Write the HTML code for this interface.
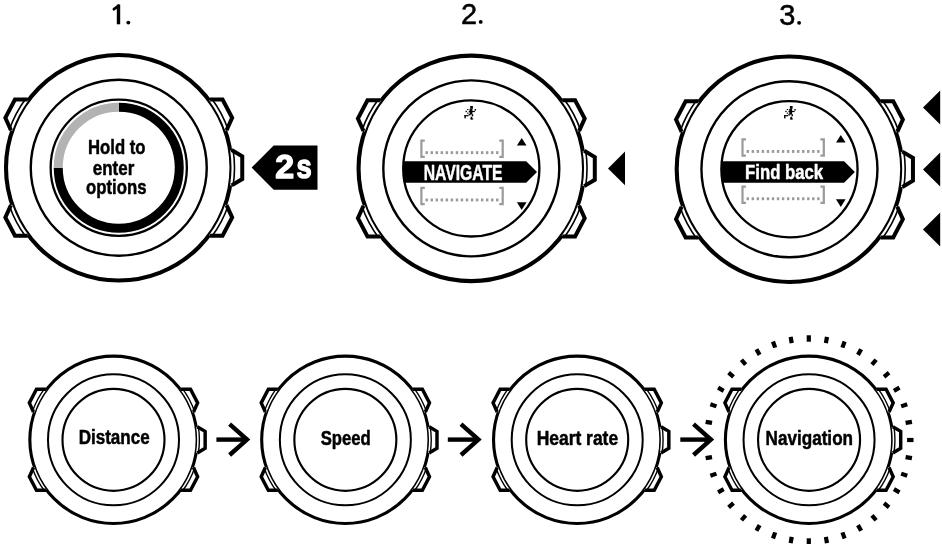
<!DOCTYPE html>
<html><head><meta charset="utf-8"><style>
html,body{margin:0;padding:0;background:#fff;}
body{width:942px;height:544px;overflow:hidden;}
svg{display:block;will-change:transform;}
</style></head><body>
<svg width="942" height="544" viewBox="0 0 942 544">
<rect width="942" height="544" fill="#fff"/>
<rect x="116.8" y="4.6" width="3.4" height="19.7" fill="#000"/>
<path d="M113.9 9.2 L118.6 5.8" stroke="#000" stroke-width="2.8" stroke-linecap="round" fill="none"/>
<circle cx="128.3" cy="22.6" r="1.95" fill="#000"/>
<text x="468.95" y="23.8" font-family="'Liberation Sans', sans-serif" font-size="29" font-weight="normal" fill="#000" text-anchor="middle" stroke="#000" stroke-width="0.5" stroke-linejoin="round">2</text>
<circle cx="480.7" cy="21.9" r="1.95" fill="#000"/>
<text x="787.35" y="24.6" font-family="'Liberation Sans', sans-serif" font-size="29" font-weight="normal" fill="#000" text-anchor="middle" stroke="#000" stroke-width="0.5" stroke-linejoin="round">3</text>
<circle cx="799.1" cy="22.85" r="1.95" fill="#000"/>
<circle cx="118.75" cy="167.7" r="112.75" fill="#fff" stroke="#000" stroke-width="4.1"/>
<circle cx="118.75" cy="167.7" r="88" fill="none" stroke="#000" stroke-width="2.4"/>
<circle cx="118.75" cy="167.7" r="68.1" fill="none" stroke="#000" stroke-width="2.3"/>
<path d="M28.48 100.15 L14.95 99.6 L5.35 117.9 L10.95 130.3 L12.23 130.74 A112.75 112.75 0 0 1 28.48 100.15 Z" fill="#fff" stroke="none"/>
<path d="M9.39 129.76 A115.75 115.75 0 0 1 26.08 98.35" fill="none" stroke="#000" stroke-width="1.6"/>
<path d="M27.75 99.6 L14.95 99.6 L5.35 117.9 L10.95 130.3" fill="none" stroke="#000" stroke-width="4" stroke-linejoin="miter"/>
<path d="M28.48 235.25 L14.95 235.8 L5.35 217.5 L10.95 205.1 L12.23 204.66 A112.75 112.75 0 0 0 28.48 235.25 Z" fill="#fff" stroke="none"/>
<path d="M9.39 205.64 A115.75 115.75 0 0 0 26.08 237.05" fill="none" stroke="#000" stroke-width="1.6"/>
<path d="M27.75 235.8 L14.95 235.8 L5.35 217.5 L10.95 205.1" fill="none" stroke="#000" stroke-width="4" stroke-linejoin="miter"/>
<path d="M209.02 100.15 L222.55 99.6 L232.15 117.9 L226.55 130.3 L225.27 130.74 A112.75 112.75 0 0 0 209.02 100.15 Z" fill="#fff" stroke="none"/>
<path d="M228.11 129.76 A115.75 115.75 0 0 0 211.42 98.35" fill="none" stroke="#000" stroke-width="1.6"/>
<path d="M209.75 99.6 L222.55 99.6 L232.15 117.9 L226.55 130.3" fill="none" stroke="#000" stroke-width="4" stroke-linejoin="miter"/>
<path d="M209.02 235.25 L222.55 235.8 L232.15 217.5 L226.55 205.1 L225.27 204.66 A112.75 112.75 0 0 1 209.02 235.25 Z" fill="#fff" stroke="none"/>
<path d="M228.11 205.64 A115.75 115.75 0 0 1 211.42 237.05" fill="none" stroke="#000" stroke-width="1.6"/>
<path d="M209.75 235.8 L222.55 235.8 L232.15 217.5 L226.55 205.1" fill="none" stroke="#000" stroke-width="4" stroke-linejoin="miter"/>
<path d="M230.14 150.24 L242.25 156.35 L242.25 179.05 L231.65 185.4 L230.14 185.16 A112.75 112.75 0 0 0 230.14 150.24 Z" fill="#fff" stroke="none"/>
<path d="M233.1 185.63 A115.75 115.75 0 0 0 233.1 149.77" fill="none" stroke="#000" stroke-width="1.6"/>
<path d="M231.65 150 L242.25 156.35 L242.25 179.05 L231.65 185.4" fill="none" stroke="#000" stroke-width="4" stroke-linejoin="miter"/>
<path d="M118.75 107.2 A60.5 60.5 0 1 1 58.25 167.7" fill="none" stroke="#000" stroke-width="9"/>
<path d="M58.25 167.7 A60.5 60.5 0 0 1 118.75 107.2" fill="none" stroke="#b3b3b3" stroke-width="9"/>
<text x="116.8" y="154.1" font-family="'Liberation Sans', sans-serif" font-size="21" font-weight="bold" fill="#000" text-anchor="middle" textLength="57.5" lengthAdjust="spacingAndGlyphs" stroke="#000" stroke-width="0.5" stroke-linejoin="round">Hold to</text>
<text x="113.55" y="174.5" font-family="'Liberation Sans', sans-serif" font-size="21" font-weight="bold" fill="#000" text-anchor="middle" textLength="41.5" lengthAdjust="spacingAndGlyphs" stroke="#000" stroke-width="0.5" stroke-linejoin="round">enter</text>
<text x="116.3" y="194.4" font-family="'Liberation Sans', sans-serif" font-size="21" font-weight="bold" fill="#000" text-anchor="middle" textLength="60.5" lengthAdjust="spacingAndGlyphs" stroke="#000" stroke-width="0.5" stroke-linejoin="round">options</text>
<path d="M251.6 167.6 L273.7 145.5 L317.5 145.5 L317.5 189.7 L273.7 189.7 Z" fill="#000"/>
<text x="284.7" y="178.4" font-family="'Liberation Sans', sans-serif" font-size="34" font-weight="bold" fill="#fff" text-anchor="middle" stroke="#fff" stroke-width="1.4" stroke-linejoin="round">2</text>
<text x="304.15" y="178.4" font-family="'Liberation Sans', sans-serif" font-size="34" font-weight="bold" fill="#fff" text-anchor="middle" textLength="15.2" lengthAdjust="spacingAndGlyphs" stroke="#fff" stroke-width="1.4" stroke-linejoin="round">s</text>
<circle cx="471.3" cy="168.4" r="112.75" fill="#fff" stroke="#000" stroke-width="4.1"/>
<circle cx="471.3" cy="168.4" r="88" fill="none" stroke="#000" stroke-width="2.4"/>
<circle cx="471.3" cy="168.4" r="68.1" fill="none" stroke="#000" stroke-width="2.3"/>
<path d="M381.03 100.85 L367.5 100.3 L357.9 118.6 L363.5 131 L364.78 131.44 A112.75 112.75 0 0 1 381.03 100.85 Z" fill="#fff" stroke="none"/>
<path d="M361.94 130.46 A115.75 115.75 0 0 1 378.63 99.05" fill="none" stroke="#000" stroke-width="1.6"/>
<path d="M380.3 100.3 L367.5 100.3 L357.9 118.6 L363.5 131" fill="none" stroke="#000" stroke-width="4" stroke-linejoin="miter"/>
<path d="M381.03 235.95 L367.5 236.5 L357.9 218.2 L363.5 205.8 L364.78 205.36 A112.75 112.75 0 0 0 381.03 235.95 Z" fill="#fff" stroke="none"/>
<path d="M361.94 206.34 A115.75 115.75 0 0 0 378.63 237.75" fill="none" stroke="#000" stroke-width="1.6"/>
<path d="M380.3 236.5 L367.5 236.5 L357.9 218.2 L363.5 205.8" fill="none" stroke="#000" stroke-width="4" stroke-linejoin="miter"/>
<path d="M561.57 100.85 L575.1 100.3 L584.7 118.6 L579.1 131 L577.82 131.44 A112.75 112.75 0 0 0 561.57 100.85 Z" fill="#fff" stroke="none"/>
<path d="M580.66 130.46 A115.75 115.75 0 0 0 563.97 99.05" fill="none" stroke="#000" stroke-width="1.6"/>
<path d="M562.3 100.3 L575.1 100.3 L584.7 118.6 L579.1 131" fill="none" stroke="#000" stroke-width="4" stroke-linejoin="miter"/>
<path d="M561.57 235.95 L575.1 236.5 L584.7 218.2 L579.1 205.8 L577.82 205.36 A112.75 112.75 0 0 1 561.57 235.95 Z" fill="#fff" stroke="none"/>
<path d="M580.66 206.34 A115.75 115.75 0 0 1 563.97 237.75" fill="none" stroke="#000" stroke-width="1.6"/>
<path d="M562.3 236.5 L575.1 236.5 L584.7 218.2 L579.1 205.8" fill="none" stroke="#000" stroke-width="4" stroke-linejoin="miter"/>
<path d="M582.69 150.94 L594.8 157.05 L594.8 179.75 L584.2 186.1 L582.69 185.86 A112.75 112.75 0 0 0 582.69 150.94 Z" fill="#fff" stroke="none"/>
<path d="M585.65 186.33 A115.75 115.75 0 0 0 585.65 150.47" fill="none" stroke="#000" stroke-width="1.6"/>
<path d="M584.2 150.7 L594.8 157.05 L594.8 179.75 L584.2 186.1" fill="none" stroke="#000" stroke-width="4" stroke-linejoin="miter"/>
<clipPath id="clip471"><circle cx="471.3" cy="168.4" r="68.1"/></clipPath>
<g clip-path="url(#clip471)"><path d="M380 161.3 L526.2 161.3 L537 172.05 L526.2 182.8 L380 182.8 Z" fill="#000"/></g>
<text x="463.15" y="179.9" font-family="'Liberation Sans', sans-serif" font-size="21.5" font-weight="bold" fill="#fff" text-anchor="middle" textLength="78.9" lengthAdjust="spacingAndGlyphs" stroke="#fff" stroke-width="0.5" stroke-linejoin="round">NAVIGATE</text>
<path d="M424.8 140.6 h-3.4 v16.2 h3.4 M499.3 140.6 h3.4 v16.2 h-3.4" fill="none" stroke="#9a9a9a" stroke-width="2.2"/>
<rect x="425.5" y="151.2" width="2.4" height="2.9" fill="#9a9a9a"/>
<rect x="430.54" y="151.2" width="2.4" height="2.9" fill="#9a9a9a"/>
<rect x="435.58" y="151.2" width="2.4" height="2.9" fill="#9a9a9a"/>
<rect x="440.62" y="151.2" width="2.4" height="2.9" fill="#9a9a9a"/>
<rect x="445.66" y="151.2" width="2.4" height="2.9" fill="#9a9a9a"/>
<rect x="450.7" y="151.2" width="2.4" height="2.9" fill="#9a9a9a"/>
<rect x="455.74" y="151.2" width="2.4" height="2.9" fill="#9a9a9a"/>
<rect x="460.78" y="151.2" width="2.4" height="2.9" fill="#9a9a9a"/>
<rect x="465.82" y="151.2" width="2.4" height="2.9" fill="#9a9a9a"/>
<rect x="470.86" y="151.2" width="2.4" height="2.9" fill="#9a9a9a"/>
<rect x="475.9" y="151.2" width="2.4" height="2.9" fill="#9a9a9a"/>
<rect x="480.94" y="151.2" width="2.4" height="2.9" fill="#9a9a9a"/>
<rect x="485.98" y="151.2" width="2.4" height="2.9" fill="#9a9a9a"/>
<rect x="491.02" y="151.2" width="2.4" height="2.9" fill="#9a9a9a"/>
<rect x="496.06" y="151.2" width="2.4" height="2.9" fill="#9a9a9a"/>
<path d="M424.8 187.9 h-3.4 v16.2 h3.4 M499.3 187.9 h3.4 v16.2 h-3.4" fill="none" stroke="#9a9a9a" stroke-width="2.2"/>
<rect x="425.5" y="198.5" width="2.4" height="2.9" fill="#9a9a9a"/>
<rect x="430.54" y="198.5" width="2.4" height="2.9" fill="#9a9a9a"/>
<rect x="435.58" y="198.5" width="2.4" height="2.9" fill="#9a9a9a"/>
<rect x="440.62" y="198.5" width="2.4" height="2.9" fill="#9a9a9a"/>
<rect x="445.66" y="198.5" width="2.4" height="2.9" fill="#9a9a9a"/>
<rect x="450.7" y="198.5" width="2.4" height="2.9" fill="#9a9a9a"/>
<rect x="455.74" y="198.5" width="2.4" height="2.9" fill="#9a9a9a"/>
<rect x="460.78" y="198.5" width="2.4" height="2.9" fill="#9a9a9a"/>
<rect x="465.82" y="198.5" width="2.4" height="2.9" fill="#9a9a9a"/>
<rect x="470.86" y="198.5" width="2.4" height="2.9" fill="#9a9a9a"/>
<rect x="475.9" y="198.5" width="2.4" height="2.9" fill="#9a9a9a"/>
<rect x="480.94" y="198.5" width="2.4" height="2.9" fill="#9a9a9a"/>
<rect x="485.98" y="198.5" width="2.4" height="2.9" fill="#9a9a9a"/>
<rect x="491.02" y="198.5" width="2.4" height="2.9" fill="#9a9a9a"/>
<rect x="496.06" y="198.5" width="2.4" height="2.9" fill="#9a9a9a"/>
<path d="M521.7 138.1 L526.5 145.5 L516.9 145.5 Z" fill="#000"/>
<path d="M521.7 210 L526.5 202.3 L516.9 202.3 Z" fill="#000"/>
<g fill="#000" transform="translate(0 0)"><rect x="470.2" y="106" width="2.7" height="2.8"/><rect x="469.6" y="108.8" width="2.8" height="5.7"/><rect x="468.8" y="110.9" width="6.1" height="1.2"/><rect x="474.6" y="109" width="1.4" height="1.6"/><rect x="467.1" y="109" width="1.4" height="1.1"/><rect x="465.5" y="110.8" width="1.4" height="1.3"/><rect x="467.1" y="112.6" width="1.4" height="1.1"/><rect x="464.4" y="115.1" width="4.1" height="1.2"/><rect x="464.4" y="115.1" width="1.4" height="3.3"/><rect x="468.5" y="114.2" width="2" height="1.2"/><rect x="471.8" y="114.2" width="1.4" height="2.2"/><rect x="470.6" y="116.8" width="1.6" height="2.6"/><rect x="470.6" y="118.3" width="2.6" height="1.2"/></g>
<path d="M608 168.4 L625 151.6 L625 185.2 Z" fill="#000"/>
<circle cx="789.45" cy="169.3" r="112.75" fill="#fff" stroke="#000" stroke-width="4.1"/>
<circle cx="789.45" cy="169.3" r="88" fill="none" stroke="#000" stroke-width="2.4"/>
<circle cx="789.45" cy="169.3" r="68.1" fill="none" stroke="#000" stroke-width="2.3"/>
<path d="M699.18 101.75 L685.65 101.2 L676.05 119.5 L681.65 131.9 L682.93 132.34 A112.75 112.75 0 0 1 699.18 101.75 Z" fill="#fff" stroke="none"/>
<path d="M680.09 131.36 A115.75 115.75 0 0 1 696.78 99.95" fill="none" stroke="#000" stroke-width="1.6"/>
<path d="M698.45 101.2 L685.65 101.2 L676.05 119.5 L681.65 131.9" fill="none" stroke="#000" stroke-width="4" stroke-linejoin="miter"/>
<path d="M699.18 236.85 L685.65 237.4 L676.05 219.1 L681.65 206.7 L682.93 206.26 A112.75 112.75 0 0 0 699.18 236.85 Z" fill="#fff" stroke="none"/>
<path d="M680.09 207.24 A115.75 115.75 0 0 0 696.78 238.65" fill="none" stroke="#000" stroke-width="1.6"/>
<path d="M698.45 237.4 L685.65 237.4 L676.05 219.1 L681.65 206.7" fill="none" stroke="#000" stroke-width="4" stroke-linejoin="miter"/>
<path d="M879.72 101.75 L893.25 101.2 L902.85 119.5 L897.25 131.9 L895.97 132.34 A112.75 112.75 0 0 0 879.72 101.75 Z" fill="#fff" stroke="none"/>
<path d="M898.81 131.36 A115.75 115.75 0 0 0 882.12 99.95" fill="none" stroke="#000" stroke-width="1.6"/>
<path d="M880.45 101.2 L893.25 101.2 L902.85 119.5 L897.25 131.9" fill="none" stroke="#000" stroke-width="4" stroke-linejoin="miter"/>
<path d="M879.72 236.85 L893.25 237.4 L902.85 219.1 L897.25 206.7 L895.97 206.26 A112.75 112.75 0 0 1 879.72 236.85 Z" fill="#fff" stroke="none"/>
<path d="M898.81 207.24 A115.75 115.75 0 0 1 882.12 238.65" fill="none" stroke="#000" stroke-width="1.6"/>
<path d="M880.45 237.4 L893.25 237.4 L902.85 219.1 L897.25 206.7" fill="none" stroke="#000" stroke-width="4" stroke-linejoin="miter"/>
<path d="M900.84 151.84 L912.95 157.95 L912.95 180.65 L902.35 187 L900.84 186.76 A112.75 112.75 0 0 0 900.84 151.84 Z" fill="#fff" stroke="none"/>
<path d="M903.8 187.23 A115.75 115.75 0 0 0 903.8 151.37" fill="none" stroke="#000" stroke-width="1.6"/>
<path d="M902.35 151.6 L912.95 157.95 L912.95 180.65 L902.35 187" fill="none" stroke="#000" stroke-width="4" stroke-linejoin="miter"/>
<clipPath id="clip789"><circle cx="789.45" cy="169.3" r="68.1"/></clipPath>
<g clip-path="url(#clip789)"><path d="M697.9 161.3 L844.1 161.3 L854.9 172.05 L844.1 182.8 L697.9 182.8 Z" fill="#000"/></g>
<text x="784.1" y="178.6" font-family="'Liberation Sans', sans-serif" font-size="20.5" font-weight="bold" fill="#fff" text-anchor="middle" textLength="78" lengthAdjust="spacingAndGlyphs" stroke="#fff" stroke-width="0.5" stroke-linejoin="round">Find back</text>
<path d="M745.9 139.4 h-3.4 v16.2 h3.4 M820.4 139.4 h3.4 v16.2 h-3.4" fill="none" stroke="#9a9a9a" stroke-width="2.2"/>
<rect x="746.6" y="150" width="2.4" height="2.9" fill="#9a9a9a"/>
<rect x="751.64" y="150" width="2.4" height="2.9" fill="#9a9a9a"/>
<rect x="756.68" y="150" width="2.4" height="2.9" fill="#9a9a9a"/>
<rect x="761.72" y="150" width="2.4" height="2.9" fill="#9a9a9a"/>
<rect x="766.76" y="150" width="2.4" height="2.9" fill="#9a9a9a"/>
<rect x="771.8" y="150" width="2.4" height="2.9" fill="#9a9a9a"/>
<rect x="776.84" y="150" width="2.4" height="2.9" fill="#9a9a9a"/>
<rect x="781.88" y="150" width="2.4" height="2.9" fill="#9a9a9a"/>
<rect x="786.92" y="150" width="2.4" height="2.9" fill="#9a9a9a"/>
<rect x="791.96" y="150" width="2.4" height="2.9" fill="#9a9a9a"/>
<rect x="797" y="150" width="2.4" height="2.9" fill="#9a9a9a"/>
<rect x="802.04" y="150" width="2.4" height="2.9" fill="#9a9a9a"/>
<rect x="807.08" y="150" width="2.4" height="2.9" fill="#9a9a9a"/>
<rect x="812.12" y="150" width="2.4" height="2.9" fill="#9a9a9a"/>
<rect x="817.16" y="150" width="2.4" height="2.9" fill="#9a9a9a"/>
<path d="M745.9 186.7 h-3.4 v16.2 h3.4 M820.4 186.7 h3.4 v16.2 h-3.4" fill="none" stroke="#9a9a9a" stroke-width="2.2"/>
<rect x="746.6" y="197.3" width="2.4" height="2.9" fill="#9a9a9a"/>
<rect x="751.64" y="197.3" width="2.4" height="2.9" fill="#9a9a9a"/>
<rect x="756.68" y="197.3" width="2.4" height="2.9" fill="#9a9a9a"/>
<rect x="761.72" y="197.3" width="2.4" height="2.9" fill="#9a9a9a"/>
<rect x="766.76" y="197.3" width="2.4" height="2.9" fill="#9a9a9a"/>
<rect x="771.8" y="197.3" width="2.4" height="2.9" fill="#9a9a9a"/>
<rect x="776.84" y="197.3" width="2.4" height="2.9" fill="#9a9a9a"/>
<rect x="781.88" y="197.3" width="2.4" height="2.9" fill="#9a9a9a"/>
<rect x="786.92" y="197.3" width="2.4" height="2.9" fill="#9a9a9a"/>
<rect x="791.96" y="197.3" width="2.4" height="2.9" fill="#9a9a9a"/>
<rect x="797" y="197.3" width="2.4" height="2.9" fill="#9a9a9a"/>
<rect x="802.04" y="197.3" width="2.4" height="2.9" fill="#9a9a9a"/>
<rect x="807.08" y="197.3" width="2.4" height="2.9" fill="#9a9a9a"/>
<rect x="812.12" y="197.3" width="2.4" height="2.9" fill="#9a9a9a"/>
<rect x="817.16" y="197.3" width="2.4" height="2.9" fill="#9a9a9a"/>
<path d="M840.8 135.1 L845.6 142.5 L836 142.5 Z" fill="#000"/>
<path d="M840.8 207 L845.6 199.3 L836 199.3 Z" fill="#000"/>
<g fill="#000" transform="translate(319.7 0)"><rect x="470.2" y="106" width="2.7" height="2.8"/><rect x="469.6" y="108.8" width="2.8" height="5.7"/><rect x="468.8" y="110.9" width="6.1" height="1.2"/><rect x="474.6" y="109" width="1.4" height="1.6"/><rect x="467.1" y="109" width="1.4" height="1.1"/><rect x="465.5" y="110.8" width="1.4" height="1.3"/><rect x="467.1" y="112.6" width="1.4" height="1.1"/><rect x="464.4" y="115.1" width="4.1" height="1.2"/><rect x="464.4" y="115.1" width="1.4" height="3.3"/><rect x="468.5" y="114.2" width="2" height="1.2"/><rect x="471.8" y="114.2" width="1.4" height="2.2"/><rect x="470.6" y="116.8" width="1.6" height="2.6"/><rect x="470.6" y="118.3" width="2.6" height="1.2"/></g>
<path d="M923 107.4 L940.2 90.4 L940.2 124.4 Z" fill="#000"/>
<path d="M923 169.4 L940.2 152.4 L940.2 186.4 Z" fill="#000"/>
<path d="M923 229.4 L940.2 212.4 L940.2 246.4 Z" fill="#000"/>
<circle cx="113.5" cy="439.8" r="83.66" fill="#fff" stroke="#000" stroke-width="3.1"/>
<circle cx="113.5" cy="439.8" r="65.5" fill="none" stroke="#000" stroke-width="2.02"/>
<circle cx="113.5" cy="439.8" r="51" fill="none" stroke="#000" stroke-width="2.15"/>
<path d="M46.52 389.67 L36.48 389.27 L29.36 402.85 L33.51 412.05 L34.46 412.38 A83.66 83.66 0 0 1 46.52 389.67 Z" fill="#fff" stroke="none"/>
<path d="M32.36 411.65 A85.89 85.89 0 0 1 44.74 388.34" fill="none" stroke="#000" stroke-width="1.38"/>
<path d="M45.98 389.27 L36.48 389.27 L29.36 402.85 L33.51 412.05" fill="none" stroke="#000" stroke-width="3.45" stroke-linejoin="miter"/>
<path d="M46.52 489.93 L36.48 490.33 L29.36 476.75 L33.51 467.55 L34.46 467.22 A83.66 83.66 0 0 0 46.52 489.93 Z" fill="#fff" stroke="none"/>
<path d="M32.36 467.95 A85.89 85.89 0 0 0 44.74 491.26" fill="none" stroke="#000" stroke-width="1.38"/>
<path d="M45.98 490.33 L36.48 490.33 L29.36 476.75 L33.51 467.55" fill="none" stroke="#000" stroke-width="3.45" stroke-linejoin="miter"/>
<path d="M180.48 389.67 L190.52 389.27 L197.64 402.85 L193.49 412.05 L192.54 412.38 A83.66 83.66 0 0 0 180.48 389.67 Z" fill="#fff" stroke="none"/>
<path d="M194.64 411.65 A85.89 85.89 0 0 0 182.26 388.34" fill="none" stroke="#000" stroke-width="1.38"/>
<path d="M181.02 389.27 L190.52 389.27 L197.64 402.85 L193.49 412.05" fill="none" stroke="#000" stroke-width="3.45" stroke-linejoin="miter"/>
<path d="M180.48 489.93 L190.52 490.33 L197.64 476.75 L193.49 467.55 L192.54 467.22 A83.66 83.66 0 0 1 180.48 489.93 Z" fill="#fff" stroke="none"/>
<path d="M194.64 467.95 A85.89 85.89 0 0 1 182.26 491.26" fill="none" stroke="#000" stroke-width="1.38"/>
<path d="M181.02 490.33 L190.52 490.33 L197.64 476.75 L193.49 467.55" fill="none" stroke="#000" stroke-width="3.45" stroke-linejoin="miter"/>
<path d="M196.15 426.84 L205.14 431.38 L205.14 448.22 L197.27 452.93 L196.15 452.76 A83.66 83.66 0 0 0 196.15 426.84 Z" fill="#fff" stroke="none"/>
<path d="M198.35 453.1 A85.89 85.89 0 0 0 198.35 426.5" fill="none" stroke="#000" stroke-width="1.38"/>
<path d="M197.27 426.67 L205.14 431.38 L205.14 448.22 L197.27 452.93" fill="none" stroke="#000" stroke-width="3.45" stroke-linejoin="miter"/>
<circle cx="345.35" cy="439.8" r="83.66" fill="#fff" stroke="#000" stroke-width="3.1"/>
<circle cx="345.35" cy="439.8" r="65.5" fill="none" stroke="#000" stroke-width="2.02"/>
<circle cx="345.35" cy="439.8" r="51" fill="none" stroke="#000" stroke-width="2.15"/>
<path d="M278.37 389.67 L268.33 389.27 L261.21 402.85 L265.36 412.05 L266.31 412.38 A83.66 83.66 0 0 1 278.37 389.67 Z" fill="#fff" stroke="none"/>
<path d="M264.21 411.65 A85.89 85.89 0 0 1 276.59 388.34" fill="none" stroke="#000" stroke-width="1.38"/>
<path d="M277.83 389.27 L268.33 389.27 L261.21 402.85 L265.36 412.05" fill="none" stroke="#000" stroke-width="3.45" stroke-linejoin="miter"/>
<path d="M278.37 489.93 L268.33 490.33 L261.21 476.75 L265.36 467.55 L266.31 467.22 A83.66 83.66 0 0 0 278.37 489.93 Z" fill="#fff" stroke="none"/>
<path d="M264.21 467.95 A85.89 85.89 0 0 0 276.59 491.26" fill="none" stroke="#000" stroke-width="1.38"/>
<path d="M277.83 490.33 L268.33 490.33 L261.21 476.75 L265.36 467.55" fill="none" stroke="#000" stroke-width="3.45" stroke-linejoin="miter"/>
<path d="M412.33 389.67 L422.37 389.27 L429.49 402.85 L425.34 412.05 L424.39 412.38 A83.66 83.66 0 0 0 412.33 389.67 Z" fill="#fff" stroke="none"/>
<path d="M426.49 411.65 A85.89 85.89 0 0 0 414.11 388.34" fill="none" stroke="#000" stroke-width="1.38"/>
<path d="M412.87 389.27 L422.37 389.27 L429.49 402.85 L425.34 412.05" fill="none" stroke="#000" stroke-width="3.45" stroke-linejoin="miter"/>
<path d="M412.33 489.93 L422.37 490.33 L429.49 476.75 L425.34 467.55 L424.39 467.22 A83.66 83.66 0 0 1 412.33 489.93 Z" fill="#fff" stroke="none"/>
<path d="M426.49 467.95 A85.89 85.89 0 0 1 414.11 491.26" fill="none" stroke="#000" stroke-width="1.38"/>
<path d="M412.87 490.33 L422.37 490.33 L429.49 476.75 L425.34 467.55" fill="none" stroke="#000" stroke-width="3.45" stroke-linejoin="miter"/>
<path d="M428 426.84 L436.99 431.38 L436.99 448.22 L429.12 452.93 L428 452.76 A83.66 83.66 0 0 0 428 426.84 Z" fill="#fff" stroke="none"/>
<path d="M430.2 453.1 A85.89 85.89 0 0 0 430.2 426.5" fill="none" stroke="#000" stroke-width="1.38"/>
<path d="M429.12 426.67 L436.99 431.38 L436.99 448.22 L429.12 452.93" fill="none" stroke="#000" stroke-width="3.45" stroke-linejoin="miter"/>
<circle cx="577.2" cy="439.8" r="83.66" fill="#fff" stroke="#000" stroke-width="3.1"/>
<circle cx="577.2" cy="439.8" r="65.5" fill="none" stroke="#000" stroke-width="2.02"/>
<circle cx="577.2" cy="439.8" r="51" fill="none" stroke="#000" stroke-width="2.15"/>
<path d="M510.22 389.67 L500.18 389.27 L493.06 402.85 L497.21 412.05 L498.16 412.38 A83.66 83.66 0 0 1 510.22 389.67 Z" fill="#fff" stroke="none"/>
<path d="M496.06 411.65 A85.89 85.89 0 0 1 508.44 388.34" fill="none" stroke="#000" stroke-width="1.38"/>
<path d="M509.68 389.27 L500.18 389.27 L493.06 402.85 L497.21 412.05" fill="none" stroke="#000" stroke-width="3.45" stroke-linejoin="miter"/>
<path d="M510.22 489.93 L500.18 490.33 L493.06 476.75 L497.21 467.55 L498.16 467.22 A83.66 83.66 0 0 0 510.22 489.93 Z" fill="#fff" stroke="none"/>
<path d="M496.06 467.95 A85.89 85.89 0 0 0 508.44 491.26" fill="none" stroke="#000" stroke-width="1.38"/>
<path d="M509.68 490.33 L500.18 490.33 L493.06 476.75 L497.21 467.55" fill="none" stroke="#000" stroke-width="3.45" stroke-linejoin="miter"/>
<path d="M644.18 389.67 L654.22 389.27 L661.34 402.85 L657.19 412.05 L656.24 412.38 A83.66 83.66 0 0 0 644.18 389.67 Z" fill="#fff" stroke="none"/>
<path d="M658.34 411.65 A85.89 85.89 0 0 0 645.96 388.34" fill="none" stroke="#000" stroke-width="1.38"/>
<path d="M644.72 389.27 L654.22 389.27 L661.34 402.85 L657.19 412.05" fill="none" stroke="#000" stroke-width="3.45" stroke-linejoin="miter"/>
<path d="M644.18 489.93 L654.22 490.33 L661.34 476.75 L657.19 467.55 L656.24 467.22 A83.66 83.66 0 0 1 644.18 489.93 Z" fill="#fff" stroke="none"/>
<path d="M658.34 467.95 A85.89 85.89 0 0 1 645.96 491.26" fill="none" stroke="#000" stroke-width="1.38"/>
<path d="M644.72 490.33 L654.22 490.33 L661.34 476.75 L657.19 467.55" fill="none" stroke="#000" stroke-width="3.45" stroke-linejoin="miter"/>
<path d="M659.85 426.84 L668.84 431.38 L668.84 448.22 L660.97 452.93 L659.85 452.76 A83.66 83.66 0 0 0 659.85 426.84 Z" fill="#fff" stroke="none"/>
<path d="M662.05 453.1 A85.89 85.89 0 0 0 662.05 426.5" fill="none" stroke="#000" stroke-width="1.38"/>
<path d="M660.97 426.67 L668.84 431.38 L668.84 448.22 L660.97 452.93" fill="none" stroke="#000" stroke-width="3.45" stroke-linejoin="miter"/>
<circle cx="809.05" cy="439.8" r="83.66" fill="#fff" stroke="#000" stroke-width="3.1"/>
<circle cx="809.05" cy="439.8" r="65.5" fill="none" stroke="#000" stroke-width="2.02"/>
<circle cx="809.05" cy="439.8" r="51" fill="none" stroke="#000" stroke-width="2.15"/>
<path d="M742.07 389.67 L732.03 389.27 L724.91 402.85 L729.06 412.05 L730.01 412.38 A83.66 83.66 0 0 1 742.07 389.67 Z" fill="#fff" stroke="none"/>
<path d="M727.91 411.65 A85.89 85.89 0 0 1 740.29 388.34" fill="none" stroke="#000" stroke-width="1.38"/>
<path d="M741.53 389.27 L732.03 389.27 L724.91 402.85 L729.06 412.05" fill="none" stroke="#000" stroke-width="3.45" stroke-linejoin="miter"/>
<path d="M742.07 489.93 L732.03 490.33 L724.91 476.75 L729.06 467.55 L730.01 467.22 A83.66 83.66 0 0 0 742.07 489.93 Z" fill="#fff" stroke="none"/>
<path d="M727.91 467.95 A85.89 85.89 0 0 0 740.29 491.26" fill="none" stroke="#000" stroke-width="1.38"/>
<path d="M741.53 490.33 L732.03 490.33 L724.91 476.75 L729.06 467.55" fill="none" stroke="#000" stroke-width="3.45" stroke-linejoin="miter"/>
<path d="M876.03 389.67 L886.07 389.27 L893.19 402.85 L889.04 412.05 L888.09 412.38 A83.66 83.66 0 0 0 876.03 389.67 Z" fill="#fff" stroke="none"/>
<path d="M890.19 411.65 A85.89 85.89 0 0 0 877.81 388.34" fill="none" stroke="#000" stroke-width="1.38"/>
<path d="M876.57 389.27 L886.07 389.27 L893.19 402.85 L889.04 412.05" fill="none" stroke="#000" stroke-width="3.45" stroke-linejoin="miter"/>
<path d="M876.03 489.93 L886.07 490.33 L893.19 476.75 L889.04 467.55 L888.09 467.22 A83.66 83.66 0 0 1 876.03 489.93 Z" fill="#fff" stroke="none"/>
<path d="M890.19 467.95 A85.89 85.89 0 0 1 877.81 491.26" fill="none" stroke="#000" stroke-width="1.38"/>
<path d="M876.57 490.33 L886.07 490.33 L893.19 476.75 L889.04 467.55" fill="none" stroke="#000" stroke-width="3.45" stroke-linejoin="miter"/>
<path d="M891.7 426.84 L900.69 431.38 L900.69 448.22 L892.82 452.93 L891.7 452.76 A83.66 83.66 0 0 0 891.7 426.84 Z" fill="#fff" stroke="none"/>
<path d="M893.9 453.1 A85.89 85.89 0 0 0 893.9 426.5" fill="none" stroke="#000" stroke-width="1.38"/>
<path d="M892.82 426.67 L900.69 431.38 L900.69 448.22 L892.82 452.93" fill="none" stroke="#000" stroke-width="3.45" stroke-linejoin="miter"/>
<text x="114.2" y="444.4" font-family="'Liberation Sans', sans-serif" font-size="20" font-weight="bold" fill="#000" text-anchor="middle" textLength="71" lengthAdjust="spacingAndGlyphs" stroke="#000" stroke-width="0.5" stroke-linejoin="round">Distance</text>
<text x="345.7" y="444.8" font-family="'Liberation Sans', sans-serif" font-size="20" font-weight="bold" fill="#000" text-anchor="middle" textLength="50" lengthAdjust="spacingAndGlyphs" stroke="#000" stroke-width="0.5" stroke-linejoin="round">Speed</text>
<text x="577.4" y="444.9" font-family="'Liberation Sans', sans-serif" font-size="20" font-weight="bold" fill="#000" text-anchor="middle" textLength="81.5" lengthAdjust="spacingAndGlyphs" stroke="#000" stroke-width="0.5" stroke-linejoin="round">Heart rate</text>
<text x="809.3" y="444.5" font-family="'Liberation Sans', sans-serif" font-size="20" font-weight="bold" fill="#000" text-anchor="middle" textLength="87.5" lengthAdjust="spacingAndGlyphs" stroke="#000" stroke-width="0.5" stroke-linejoin="round">Navigation</text>
<path d="M216.4 439.6 L246.2 439.6" stroke="#000" stroke-width="4.4" fill="none"/>
<path d="M229.6 424.2 L247 439.6 L229.6 455" stroke="#000" stroke-width="4.4" fill="none" stroke-linejoin="miter" stroke-miterlimit="10"/>
<path d="M447.8 439.6 L477.6 439.6" stroke="#000" stroke-width="4.4" fill="none"/>
<path d="M461 424.2 L478.4 439.6 L461 455" stroke="#000" stroke-width="4.4" fill="none" stroke-linejoin="miter" stroke-miterlimit="10"/>
<path d="M680.3 439.6 L710.1 439.6" stroke="#000" stroke-width="4.4" fill="none"/>
<path d="M693.5 424.2 L710.9 439.6 L693.5 455" stroke="#000" stroke-width="4.4" fill="none" stroke-linejoin="miter" stroke-miterlimit="10"/>
<rect x="806.7" y="335.27" width="4.2" height="6.45" fill="#000" transform="rotate(0 808.8 440)"/>
<rect x="806.7" y="335.27" width="4.2" height="6.45" fill="#000" transform="rotate(10 808.8 440)"/>
<rect x="806.7" y="335.27" width="4.2" height="6.45" fill="#000" transform="rotate(20 808.8 440)"/>
<rect x="806.7" y="335.27" width="4.2" height="6.45" fill="#000" transform="rotate(30 808.8 440)"/>
<rect x="806.7" y="335.27" width="4.2" height="6.45" fill="#000" transform="rotate(40 808.8 440)"/>
<rect x="806.7" y="335.27" width="4.2" height="6.45" fill="#000" transform="rotate(50 808.8 440)"/>
<rect x="806.7" y="335.27" width="4.2" height="6.45" fill="#000" transform="rotate(60 808.8 440)"/>
<rect x="806.7" y="335.27" width="4.2" height="6.45" fill="#000" transform="rotate(70 808.8 440)"/>
<rect x="806.7" y="335.27" width="4.2" height="6.45" fill="#000" transform="rotate(80 808.8 440)"/>
<rect x="806.7" y="335.27" width="4.2" height="6.45" fill="#000" transform="rotate(90 808.8 440)"/>
<rect x="806.7" y="335.27" width="4.2" height="6.45" fill="#000" transform="rotate(100 808.8 440)"/>
<rect x="806.7" y="335.27" width="4.2" height="6.45" fill="#000" transform="rotate(110 808.8 440)"/>
<rect x="806.7" y="335.27" width="4.2" height="6.45" fill="#000" transform="rotate(120 808.8 440)"/>
<rect x="806.7" y="335.27" width="4.2" height="6.45" fill="#000" transform="rotate(130 808.8 440)"/>
<rect x="806.7" y="335.27" width="4.2" height="6.45" fill="#000" transform="rotate(140 808.8 440)"/>
<rect x="806.7" y="335.27" width="4.2" height="6.45" fill="#000" transform="rotate(150 808.8 440)"/>
<rect x="806.7" y="335.27" width="4.2" height="6.45" fill="#000" transform="rotate(160 808.8 440)"/>
<rect x="806.7" y="335.27" width="4.2" height="6.45" fill="#000" transform="rotate(170 808.8 440)"/>
<rect x="806.7" y="335.27" width="4.2" height="6.45" fill="#000" transform="rotate(180 808.8 440)"/>
<rect x="806.7" y="335.27" width="4.2" height="6.45" fill="#000" transform="rotate(190 808.8 440)"/>
<rect x="806.7" y="335.27" width="4.2" height="6.45" fill="#000" transform="rotate(200 808.8 440)"/>
<rect x="806.7" y="335.27" width="4.2" height="6.45" fill="#000" transform="rotate(210 808.8 440)"/>
<rect x="806.7" y="335.27" width="4.2" height="6.45" fill="#000" transform="rotate(220 808.8 440)"/>
<rect x="806.7" y="335.27" width="4.2" height="6.45" fill="#000" transform="rotate(230 808.8 440)"/>
<rect x="806.7" y="335.27" width="4.2" height="6.45" fill="#000" transform="rotate(240 808.8 440)"/>
<rect x="806.7" y="335.27" width="4.2" height="6.45" fill="#000" transform="rotate(250 808.8 440)"/>
<rect x="806.7" y="335.27" width="4.2" height="6.45" fill="#000" transform="rotate(260 808.8 440)"/>
<rect x="806.7" y="335.27" width="4.2" height="6.45" fill="#000" transform="rotate(270 808.8 440)"/>
<rect x="806.7" y="335.27" width="4.2" height="6.45" fill="#000" transform="rotate(280 808.8 440)"/>
<rect x="806.7" y="335.27" width="4.2" height="6.45" fill="#000" transform="rotate(290 808.8 440)"/>
<rect x="806.7" y="335.27" width="4.2" height="6.45" fill="#000" transform="rotate(300 808.8 440)"/>
<rect x="806.7" y="335.27" width="4.2" height="6.45" fill="#000" transform="rotate(310 808.8 440)"/>
<rect x="806.7" y="335.27" width="4.2" height="6.45" fill="#000" transform="rotate(320 808.8 440)"/>
<rect x="806.7" y="335.27" width="4.2" height="6.45" fill="#000" transform="rotate(330 808.8 440)"/>
<rect x="806.7" y="335.27" width="4.2" height="6.45" fill="#000" transform="rotate(340 808.8 440)"/>
<rect x="806.7" y="335.27" width="4.2" height="6.45" fill="#000" transform="rotate(350 808.8 440)"/>
</svg>
</body></html>
